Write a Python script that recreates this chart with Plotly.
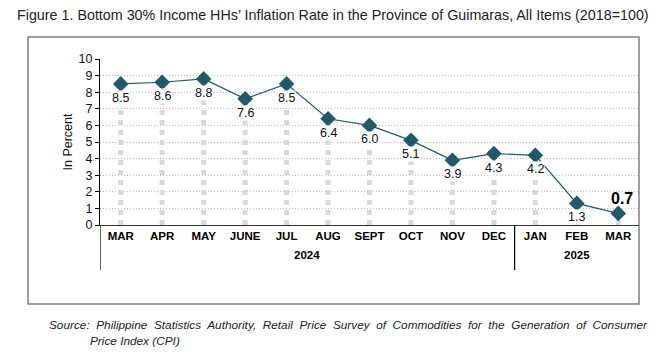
import plotly.graph_objects as go

months = ["MAR", "APR", "MAY", "JUNE", "JUL", "AUG", "SEPT", "OCT", "NOV", "DEC", "JAN", "FEB", "MAR"]
values = [8.5, 8.6, 8.8, 7.6, 8.5, 6.4, 6.0, 5.1, 3.9, 4.3, 4.2, 1.3, 0.7]
years = ["2024", "2025"]
year_counts = [10, 3]

x = list(range(len(months)))
teal = "#215968"
FONT = "Liberation Sans, Arial"

# plot area in screen pixels (page has an 8px body margin)
OFF = 8
L, R, T, B = 100, 639, 59, 225
W, H = R - L, B - T
def px(xp):
    return (xp - L) / W
def py(yp):
    return (B - yp) / H

fig = go.Figure()

# dotted drop lines
dx, dy = [], []
for xi, v in zip(x, values):
    dx += [xi, xi, None]
    dy += [0, v, None]
fig.add_trace(go.Scatter(x=dx, y=dy, mode="lines",
                         line=dict(color="#d9d9d9", width=5, dash="dot"),
                         hoverinfo="skip", showlegend=False))

fig.add_trace(go.Scatter(x=x, y=values, mode="lines+markers",
                         line=dict(color=teal, width=1.2),
                         marker=dict(symbol="diamond", size=12, color=teal),
                         showlegend=False))

annotations = []
for i, (xi, v) in enumerate(zip(x, values)):
    last = i == len(values) - 1
    if last:
        annotations.append(dict(x=xi, y=v, xref="x", yref="y", text="<b>%.1f</b>" % v,
                                showarrow=False, yshift=15, xshift=4,
                                font=dict(size=16, color="#000", family=FONT)))
    else:
        annotations.append(dict(x=xi, y=v, xref="x", yref="y", text="%.1f" % v,
                                showarrow=False, yshift=-14, bgcolor="white", borderpad=0,
                                font=dict(size=12.5, color="#111", family=FONT)))

# year labels and dividers
shapes = []
start = 0
for yr, n in zip(years, year_counts):
    center = start + (n - 1) / 2
    annotations.append(dict(x=center, y=py(263), xref="x", yref="paper", text="<b>%s</b>" % yr,
                            showarrow=False, font=dict(size=11.5, color="#000", family=FONT)))
    shapes.append(dict(type="line", xref="x", yref="paper", x0=start - 0.5, x1=start - 0.5,
                       y0=0, y1=py(270), line=dict(color="#000", width=1.2)))
    start += n

# outer box
shapes.append(dict(type="rect", xref="paper", yref="paper", x0=px(28), x1=px(639), y0=py(304), y1=py(37),
                   line=dict(color="#7f7f7f", width=1.5), layer="below"))

annotations.append(dict(x=px(333), y=py(15), xref="paper", yref="paper", xanchor="center", yanchor="middle",
                        text="Figure 1. Bottom 30% Income HHs\u2019 Inflation Rate in the Province of Guimaras, All Items (2018=100)",
                        showarrow=False, font=dict(size=14.3, color="#222", family=FONT)))
annotations.append(dict(x=px(47), y=py(316), xref="paper", yref="paper", xanchor="left", yanchor="top",
                        text="<i>Source:  Philippine  Statistics  Authority,  Retail  Price  Survey  of  Commodities  for  the  Generation  of  Consumer</i>",
                        showarrow=False, font=dict(size=11.8, color="#222", family=FONT)))
annotations.append(dict(x=px(88), y=py(332), xref="paper", yref="paper", xanchor="left", yanchor="top",
                        text="<i>Price Index (CPI)</i>",
                        showarrow=False, font=dict(size=11.8, color="#222", family=FONT)))

fig.update_layout(
    width=666, height=360,
    margin=dict(l=L - OFF, r=666 - (R - OFF), t=T - OFF, b=360 - (B - OFF), autoexpand=False),
    plot_bgcolor="white", paper_bgcolor="white",
    xaxis=dict(range=[-0.5, len(months) - 0.5], tickmode="array", tickvals=x, automargin=False,
               ticktext=["<b>%s</b>" % m for m in months], showgrid=False, zeroline=False,
               showline=True, linecolor="#333", linewidth=1.2, ticks="",
               tickfont=dict(size=11.5, color="#000", family=FONT)),
    yaxis=dict(range=[0, 10], dtick=1, showgrid=True, gridcolor="#bfbfbf", griddash="1px,2px", gridwidth=1,
               zeroline=False, showline=True, linecolor="#000", linewidth=1, ticks="outside", ticklen=4,
               tickcolor="#000", automargin=False,
               tickfont=dict(size=12.5, color="#111", family=FONT),
               title=dict(text="In Percent", standoff=3,
                          font=dict(size=12.5, color="#111", family=FONT))),
    annotations=annotations, shapes=shapes,
)
fig.write_html("out.html")
